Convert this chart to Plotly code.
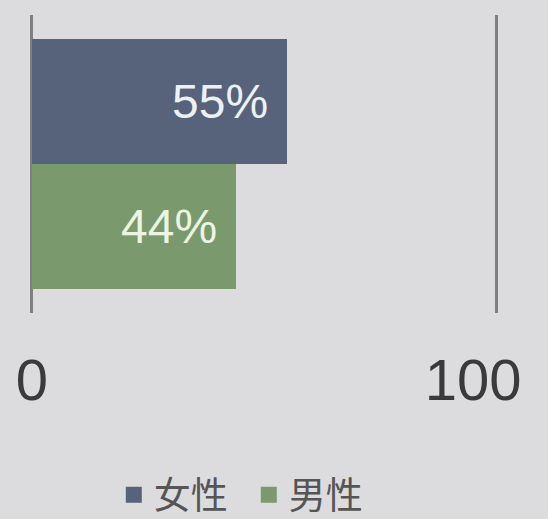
import plotly.graph_objects as go

categories = ["女性", "男性"]
values = [55, 44]
colors = ["#56637a", "#7a996d"]
label_colors = ["#eef1f4", "#eaf5e2"]
tick_vals = [0, 100]
tick_text = ["0", "100"]

fig = go.Figure()
for cat, v, c in zip(categories, values, colors):
    fig.add_trace(go.Bar(
        x=[v], y=[cat], orientation="h", marker=dict(color=c, line=dict(width=0)),
        showlegend=False, hoverinfo="skip"))
    fig.add_trace(go.Scatter(
        x=[None], y=[None], mode="markers", name=cat,
        marker=dict(symbol="square", size=19, color=c)))

# invisible helper trace so the secondary x axis (carrying the "100" label) is drawn
fig.add_trace(go.Scatter(x=[tick_vals[1]], y=[categories[0]], xaxis="x2", yaxis="y",
                         mode="markers", marker=dict(opacity=0, size=1),
                         showlegend=False, hoverinfo="skip"))

for cat, v, lc in zip(categories, values, label_colors):
    fig.add_annotation(x=v, y=cat, xref="x", yref="y", text=f"{v}%",
                       showarrow=False, xanchor="right", xshift=-17,
                       font=dict(family="Liberation Sans, Arial", size=48, color=lc))

tick_font = dict(family="Liberation Sans, Arial", size=58, color="#3a3a3a")
fig.update_layout(
    width=548, height=519,
    margin=dict(l=30, r=50, t=15, b=206),
    paper_bgcolor="#dcdcdf", plot_bgcolor="#dcdcdf",
    bargap=0,
    showlegend=True,
    legend=dict(orientation="h", x=0.454, xanchor="center", xref="container",
                y=0.046, yanchor="middle", yref="container",
                font=dict(family="Noto Sans CJK SC", size=37, color="#555555"),
                itemwidth=30, tracegroupgap=0, entrywidth=90),
    font=dict(family="Liberation Sans, Arial"),
    xaxis=dict(range=[-0.4, 100.4], tickvals=tick_vals,
               ticktext=[tick_text[0], ""],
               showgrid=True, gridcolor="#808080", gridwidth=3,
               zeroline=False, showline=False, ticks="",
               tickfont=tick_font, ticklabelstandoff=28,
               automargin=False, fixedrange=True),
    xaxis2=dict(overlaying="x", matches="x", side="bottom", anchor="y",
                range=[-0.4, 100.4], tickvals=[tick_vals[1]],
                ticktext=[tick_text[1]],
                showgrid=False, zeroline=False, showline=False, ticks="",
                tickfont=tick_font, ticklabelstandoff=28, ticklabelshift=-23,
                automargin=False, fixedrange=True),
    yaxis=dict(categoryorder="array", categoryarray=categories,
               range=[1.692, -0.692], showticklabels=False, showgrid=False,
               zeroline=False, showline=False, automargin=False, fixedrange=True),
)

fig.write_html("out.html", config={"displayModeBar": False},
               post_script="document.body.style.margin='0';document.body.style.overflow='hidden';")
